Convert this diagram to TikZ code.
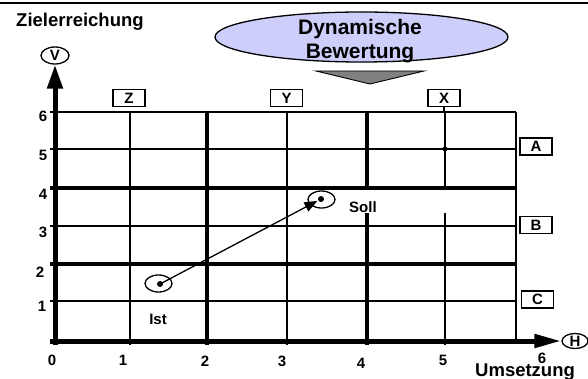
\documentclass[tikz,border=0pt]{standalone}
\usepackage{fontspec}
\setmainfont{Liberation Sans}
\usetikzlibrary{arrows.meta,shapes.geometric}
\definecolor{lav}{RGB}{206,206,250}
\definecolor{tri}{RGB}{128,128,128}
\begin{document}
\begin{tikzpicture}[x=1pt,y=-1pt,
  thingrid/.style={line width=1.3pt},
  thickgrid/.style={line width=4pt},
  lbox/.style={draw,line width=1.3pt,minimum width=32pt,minimum height=17pt,inner sep=0pt,font=\fontsize{15}{15}\selectfont\bfseries},
  oval/.style={draw,ellipse,line width=1.3pt,inner sep=0pt,minimum width=27pt,minimum height=17pt},
  axlabel/.style={draw,ellipse,line width=1.3pt,inner sep=0pt,minimum width=28pt,minimum height=17pt,font=\fontsize{15}{15}\selectfont\bfseries},
  num/.style={inner sep=0pt,font=\fontsize{15}{15}\selectfont\bfseries},
  big/.style={inner sep=0pt,font=\fontsize{18.5}{18.5}\selectfont\bfseries},
  mid/.style={inner sep=0pt,font=\fontsize{15}{15}\selectfont\bfseries},
  axis/.style={line width=5pt},
]
\useasboundingbox (0,0) rectangle (588,379);
% top border
\draw[line width=1.6pt] (0,3) -- (588,3);

% grid horizontals
\foreach \y in {112,149,226,301} \draw[thingrid] (50,\y) -- (516,\y);
\foreach \y in {188,264} \draw[thickgrid] (50,\y) -- (516,\y);
% grid verticals
\foreach \x in {130,287,445} \draw[thingrid] (\x,112) -- (\x,345);
\foreach \x in {207,367} \draw[thickgrid] (\x,112) -- (\x,345);
\draw[thingrid] (516,112) -- (516,340);

% gap behind Soll
\fill[white] (338,190.5) rectangle (513,213);

% column / row boxes
\node[lbox] (Z) at (129,98) {Z};
\node[lbox] (Y) at (286.5,98) {Y};
\node[lbox] (X) at (444,98) {X};
\node[lbox] (A) at (536,146.5) {A};
\node[lbox] (B) at (536,225) {B};
\node[lbox] (C) at (537.5,299.5) {C};
\draw[thingrid] (X.south) -- (X.south |- 0,112);
\fill (445,149) circle (2.6);

% axes
\node[axlabel] (V) at (55,55.5) {V};
\node[axlabel,minimum width=26pt,minimum height=15pt] (H) at (575,341) {H};
\coordinate (O) at (55,345);
\coordinate (Ox) at (50,341);
\draw[axis,-{Triangle[length=24pt,width=15pt]}] (O) -- (V.south);
\draw[axis,-{Triangle[length=27pt,width=13pt]}] (Ox) -- (H.west);

% axis numbers
\node[num] at (52,360) {0};
\node[num] at (123,360) {1};
\node[num] at (205,361) {2};
\node[num] at (282,361) {3};
\node[num] at (361,363) {4};
\node[num] at (443,360) {5};
\node[num] at (542,358) {6};
\node[num] at (43,116) {6};
\node[num] at (43,155) {5};
\node[num] at (43,194) {4};
\node[num] at (43,232) {3};
\node[num] at (40,272) {2};
\node[num] at (42,306) {1};

% axis titles
\node[big,anchor=base west] at (16,27) {Zielerreichung};
\node[big,anchor=base west] at (475,376) {Umsetzung};

% Dynamische Bewertung
\node[draw,ellipse,fill=lav,line width=1.3pt,minimum width=293pt,minimum height=50pt,inner sep=0pt] (dyn) at (361.5,37) {};
\node[inner sep=0pt,align=center,font=\fontsize{21}{24}\selectfont\bfseries] at (360,41.5) {Dynamische\\Bewertung};
\draw[fill=tri,line width=0.9pt] (316,71) -- (424,71) -- (370,84) -- cycle;

% Ist and Soll
\node[oval] (ist) at (158.5,283.5) {};
\node[oval] (soll) at (321.5,199.5) {};
\coordinate (istdot) at (160,284);
\coordinate (solldot) at (321,199);
\fill (istdot) circle (3);
\fill (solldot) circle (3);
\draw[line width=1.3pt,-{Triangle[length=13pt,width=10pt]},shorten >=4pt] (istdot) -- (solldot);
\node[mid,anchor=base] at (158,324) {Ist};
\node[mid,anchor=base west] at (349,212) {Soll};
\end{tikzpicture}
\end{document}
